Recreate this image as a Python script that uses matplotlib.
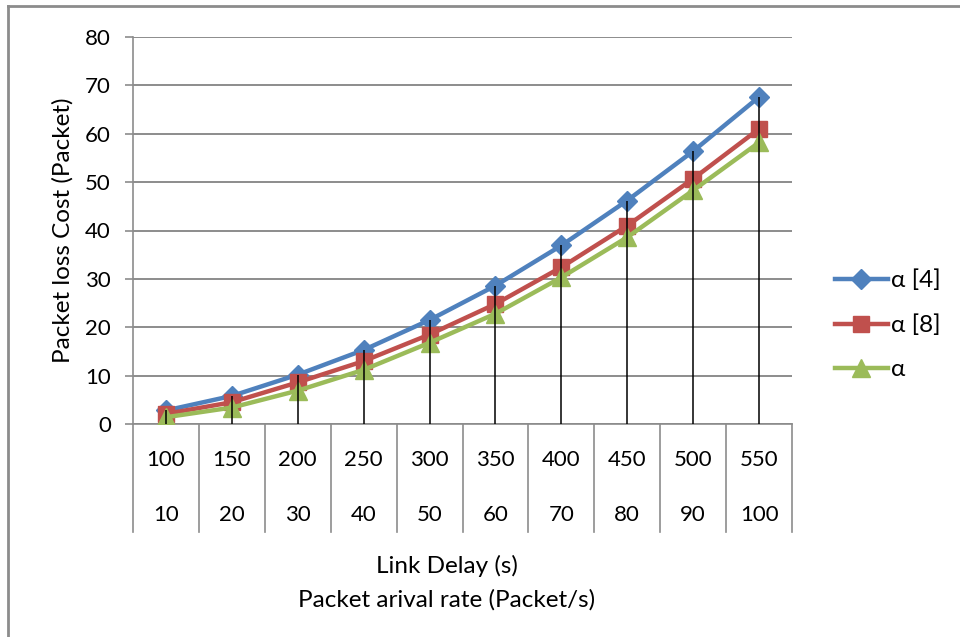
import matplotlib
matplotlib.use("Agg")
import matplotlib.pyplot as plt
from matplotlib.lines import Line2D

plt.rcParams['font.family'] = ['Lato', 'DejaVu Sans']

# link delay / arrival rate categories
delay = ['100', '150', '200', '250', '300', '350', '400', '450', '500', '550']
rate = ['10', '20', '30', '40', '50', '60', '70', '80', '90', '100']

# packet loss cost per series
alpha4 = [2.8, 5.8, 10.2, 15.3, 21.5, 28.6, 36.9, 46.2, 56.4, 67.6]
alpha8 = [2.1, 4.5, 8.6, 13.0, 18.5, 24.8, 32.4, 41.0, 50.7, 61.0]
alpha = [1.4, 3.4, 6.9, 11.2, 16.8, 22.8, 30.3, 38.6, 48.3, 58.2]

yticks = [0, 10, 20, 30, 40, 50, 60, 70, 80]

W, H = 960, 637
fig = plt.figure(figsize=(9.6, 6.37), dpi=100)
ax = fig.add_axes([133 / W, 1 - 424 / H, (792 - 133) / W, (424 - 37) / H])

x = list(range(len(delay)))
grey = '#8c8c8c'
tick_fs = 16
title_fs = 17.5

# drop lines from the top series down to zero
top = [max(a, b, c) for a, b, c in zip(alpha4, alpha8, alpha)]
ax.vlines(x, 0, top, color='black', lw=1.1, zorder=5)

ax.plot(x, alpha4, color='#4F81BD', lw=3.2, marker='D', ms=10.5, label='α [4]', zorder=3)
ax.plot(x, alpha8, color='#C0504D', lw=3.2, marker='s', ms=11, label='α [8]', zorder=3.1)
ax.plot(x, alpha, color='#9BBB59', lw=3.2, marker='^', ms=12.5, label='α', zorder=3.2)

ax.set_xlim(-0.5, len(delay) - 0.5)
ax.set_ylim(0, 80)
ax.set_yticks(yticks)
ax.yaxis.grid(True, color=grey, lw=1.4)
ax.set_axisbelow(True)
for s in ['top', 'right']:
    ax.spines[s].set_visible(False)
ax.spines['left'].set_color(grey)
ax.spines['bottom'].set_color(grey)
ax.spines['left'].set_linewidth(1.2)
ax.spines['bottom'].set_linewidth(1.2)
ax.tick_params(axis='y', length=6, color=grey, width=1.2, labelsize=tick_fs, pad=10)
ax.set_xticks([])

ax.set_ylabel('Packet loss Cost (Packet)', fontsize=title_fs, labelpad=8)

# two-level category axis below the plot
sep_bottom = -(532 - 424) / (424 - 37)
for k in range(len(delay) + 1):
    ax.add_line(Line2D([k - 0.5, k - 0.5], [0, sep_bottom], transform=ax.get_xaxis_transform(),
                       color=grey, lw=1.2, clip_on=False))
row1 = -(460 - 424) / (424 - 37)
row2 = -(515 - 424) / (424 - 37)
for i in x:
    ax.text(i, row1, delay[i], transform=ax.get_xaxis_transform(), ha='center', va='center', fontsize=tick_fs)
    ax.text(i, row2, rate[i], transform=ax.get_xaxis_transform(), ha='center', va='center', fontsize=tick_fs)

fig.text(447 / W, 1 - 566 / H, 'Link Delay (s)', ha='center', va='center', fontsize=title_fs)
fig.text(447 / W, 1 - 600 / H, 'Packet arival rate (Packet/s)', ha='center', va='center', fontsize=title_fs)

fig.legend(loc='center left', bbox_to_anchor=(825 / W, 1 - 325 / H), frameon=False, fontsize=title_fs,
           handlelength=2.2, handletextpad=0.1, labelspacing=0.95, borderaxespad=0)

# chart frame (top and left edges)
fig.add_artist(Line2D([8 / W, 1], [1 - 6 / H, 1 - 6 / H], transform=fig.transFigure, color=grey, lw=2))
fig.add_artist(Line2D([8 / W, 8 / W], [0, 1 - 6 / H], transform=fig.transFigure, color=grey, lw=2))

fig.savefig('out.png', dpi=100)
